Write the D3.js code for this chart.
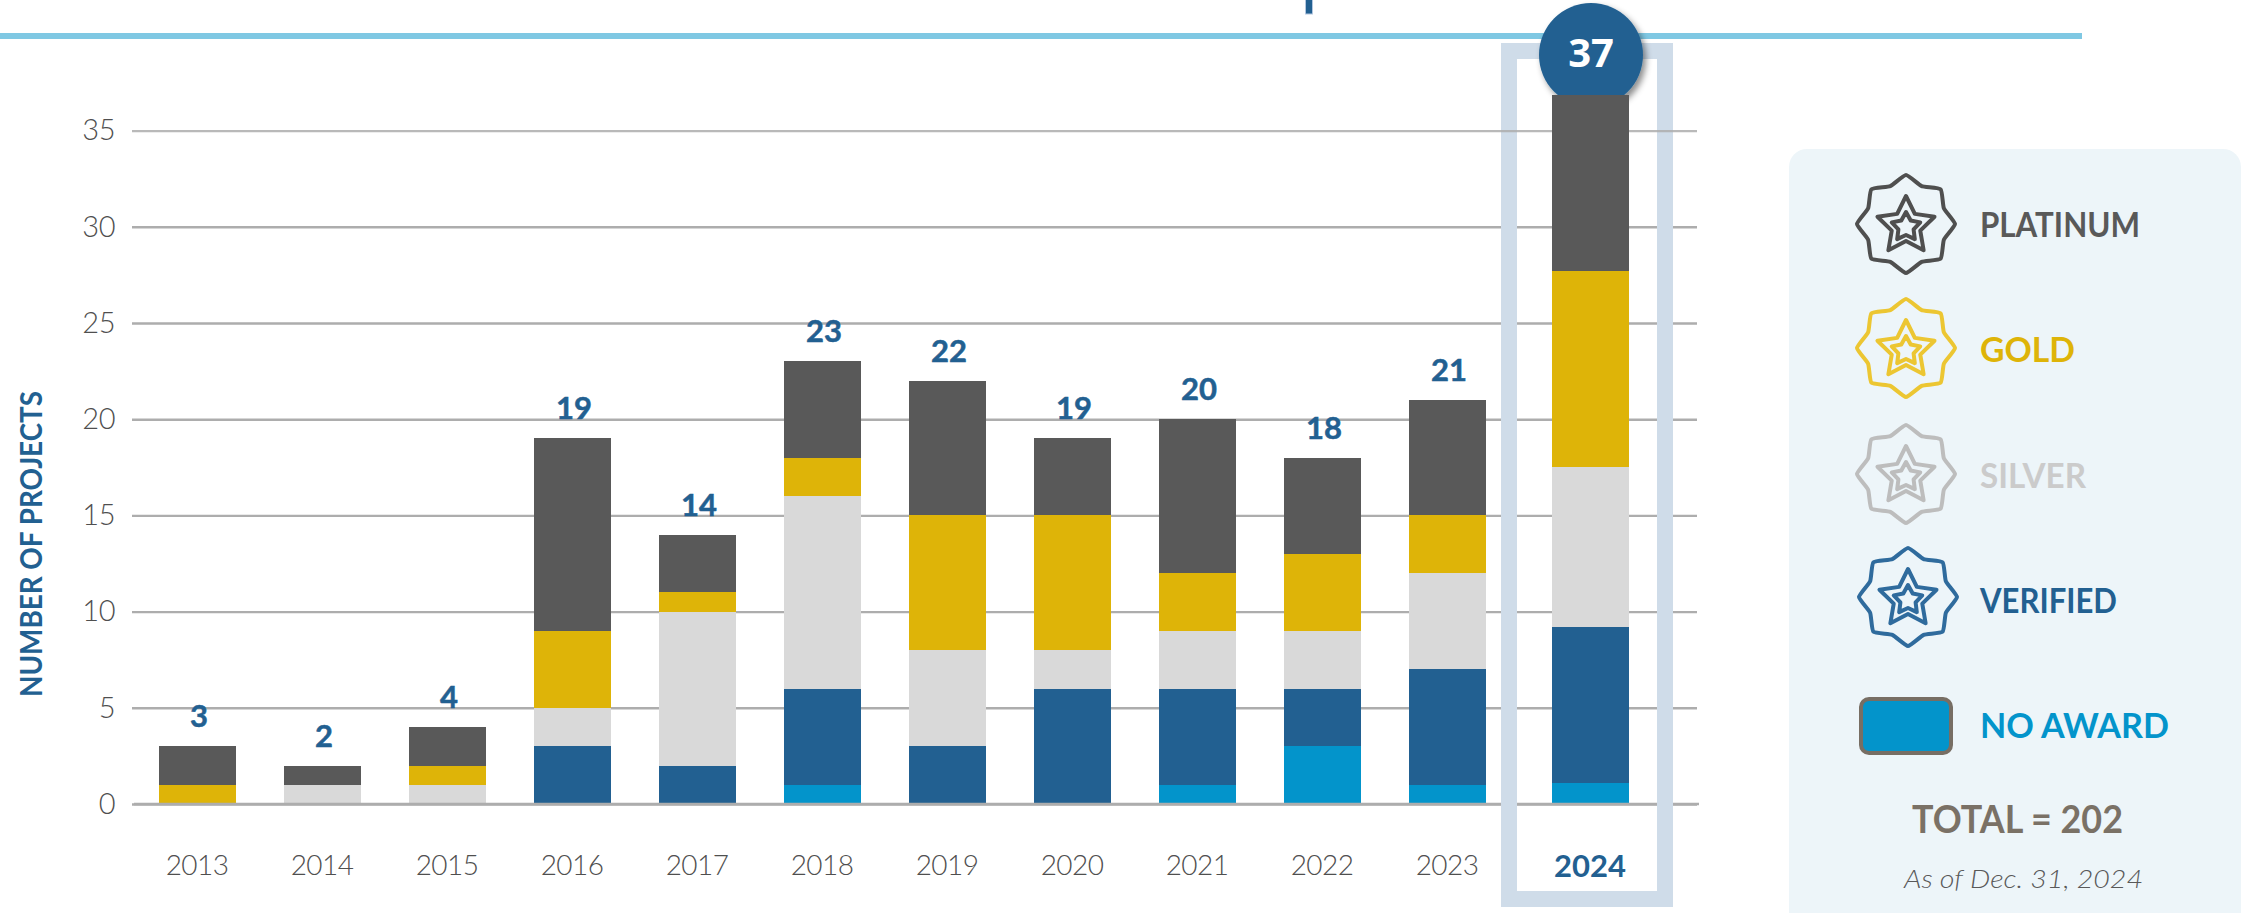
<!DOCTYPE html>
<html>
<head>
<meta charset="utf-8">
<title>Projects by year</title>
<script src="https://cdn.jsdelivr.net/npm/d3@7"></script>
<style>
  html, body { margin: 0; padding: 0; background: #fff; overflow: hidden; }
  text { font-family: Lato, "Open Sans", sans-serif; }
</style>
</head>
<body>
<div id="chart"></div>
<script>
// data
const years = [2013, 2014, 2015, 2016, 2017, 2018, 2019, 2020, 2021, 2022, 2023, 2024];
const noAward  = [0, 0, 0, 0, 0, 1, 0, 0, 1, 3, 1, 1.1];
const verified = [0, 0, 0, 3, 2, 5, 3, 6, 5, 3, 6, 8.1];
const silver   = [0, 1, 1, 2, 8, 10, 5, 2, 3, 3, 5, 8.3];
const gold     = [1, 0, 1, 4, 1, 2, 7, 7, 3, 4, 3, 10.2];
const platinum = [2, 1, 2, 10, 3, 5, 7, 4, 8, 5, 6, 9.15];
const totals   = [3, 2, 4, 19, 14, 23, 22, 19, 20, 18, 21, 37];
const yTicks   = [0, 5, 10, 15, 20, 25, 30, 35];
const highlightYear = 2024;

const seriesKeys = ["noAward", "verified", "silver", "gold", "platinum"];
const seriesValues = { noAward, verified, silver, gold, platinum };
const colors = { noAward: "#0394cb", verified: "#226091", silver: "#d9d9d9", gold: "#deb408", platinum: "#595959" };

const blue = "#226091";
const W = 2244, H = 913;
const highlightShift = 18; // the 2024 bar sits a bit further right than the regular step

const svg = d3.select("#chart").append("svg")
  .attr("width", W).attr("height", H)
  .style("display", "block");

const defs = svg.append("defs");
const shadow = defs.append("filter").attr("id", "shadow")
  .attr("x", "-20%").attr("y", "-20%").attr("width", "150%").attr("height", "150%");
shadow.append("feDropShadow")
  .attr("dx", 3).attr("dy", 4).attr("stdDeviation", 3)
  .attr("flood-color", "#000").attr("flood-opacity", 0.45);

// scales
const x = d3.scaleBand().domain(years).range([158.5, 1610.5]).paddingInner(0.384).paddingOuter(0);
const y = d3.scaleLinear().domain([0, 35]).range([804, 130.6]);
const xLeft = d => x(d) + (d === highlightYear ? highlightShift : 0);
const xMid = d => xLeft(d) + x.bandwidth() / 2;

// header rule and the bottom of the cut off title
svg.append("rect").attr("x", 0).attr("y", 33).attr("width", 2082).attr("height", 6).attr("fill", "#7fc8e3");
svg.append("rect").attr("x", 1305.5).attr("y", -2).attr("width", 7).attr("height", 16)
  .attr("fill", blue).attr("stroke", "#b3c7e0").attr("stroke-width", 1);

// grid and y axis
const grid = svg.append("g").attr("transform", "translate(132,0)")
  .call(d3.axisLeft(y).tickValues(yTicks).tickSize(-1565).tickPadding(17));
grid.select(".domain").remove();
grid.selectAll(".tick line").attr("stroke", "#adadad").attr("stroke-width", 2.4);
grid.selectAll(".tick text")
  .attr("fill", "#4f4f4f").style("font-size", "29px").style("font-weight", 300)
  .style("letter-spacing", "-0.5px");

// highlight frame, only the top grid line shows through it
grid.insert("rect", ".tick")
  .attr("x", 1509 - 132).attr("y", 51).attr("width", 156).attr("height", 848)
  .attr("fill", "none").attr("stroke", "#cfdce9").attr("stroke-width", 16);
grid.selectAll(".tick").filter(d => d !== 35).lower();
grid.selectAll(".tick").filter(d => d === 35).select("line").attr("stroke-opacity", 0.85);

// top badge, goes below the bars
svg.append("circle").attr("cx", 1591).attr("cy", 55).attr("r", 52)
  .attr("fill", blue).attr("filter", "url(#shadow)");

// stacked bars
const rows = years.map((yr, i) => {
  const row = { year: yr };
  seriesKeys.forEach(k => { row[k] = seriesValues[k][i]; });
  return row;
});
const stacked = d3.stack().keys(seriesKeys)(rows);

svg.append("g").selectAll("g").data(stacked).join("g")
  .attr("fill", d => colors[d.key])
  .selectAll("rect").data(d => d).join("rect")
    .attr("x", d => xLeft(d.data.year))
    .attr("y", d => y(d[1]))
    .attr("width", x.bandwidth())
    .attr("height", d => y(d[0]) - y(d[1]))
    .attr("shape-rendering", "crispEdges");

// base line on top of the bars
svg.append("line").attr("x1", 134).attr("x2", 1699).attr("y1", y(0)).attr("y2", y(0))
  .attr("stroke", "#adadad").attr("stroke-width", 2.4);
svg.append("rect").attr("x", 1501).attr("y", y(0) - 2).attr("width", 16).attr("height", 4).attr("fill", "#cfdce9");
svg.append("rect").attr("x", 1657).attr("y", y(0) - 2).attr("width", 16).attr("height", 4).attr("fill", "#cfdce9");

// x axis labels
const xAxis = svg.append("g").attr("transform", "translate(0,804)")
  .call(d3.axisBottom(x).tickSize(0).tickPadding(51));
xAxis.select(".domain").remove();
xAxis.selectAll(".tick text")
  .attr("fill", "#4f4f4f").style("font-size", "28px").style("font-weight", 300)
  .style("letter-spacing", "-0.6px");
xAxis.selectAll(".tick").filter(d => d === highlightYear)
  .attr("transform", d => `translate(${xMid(d)},0)`)
  .select("text").attr("fill", blue).style("font-weight", 700)
  .style("font-size", "31px").style("letter-spacing", "0");

// totals over the bars
svg.append("g").selectAll("text").data(years.filter(d => d !== highlightYear)).join("text")
  .attr("x", d => xMid(d) + 2)
  .attr("y", (d, i) => y(totals[i]) - 19)
  .attr("text-anchor", "middle")
  .attr("fill", blue).attr("stroke", blue).attr("stroke-width", 0.5)
  .style("font-size", "31px").style("font-weight", 700)
  .text((d, i) => totals[i]);

svg.append("text").attr("x", 1591).attr("y", 67)
  .attr("text-anchor", "middle").attr("fill", "#fff")
  .style("font-family", '"Open Sans", sans-serif')
  .style("font-size", "40px").style("font-weight", 700)
  .text(totals[totals.length - 1]);

// y title
svg.append("text")
  .attr("transform", "translate(42,544) rotate(-90)")
  .attr("text-anchor", "middle").attr("fill", blue)
  .attr("textLength", 306).attr("lengthAdjust", "spacingAndGlyphs")
  .style("font-size", "31px").style("font-weight", 700)
  .text("NUMBER OF PROJECTS");

// legend panel
svg.append("rect").attr("x", 1789).attr("y", 149).attr("width", 452).attr("height", 790)
  .attr("rx", 18).attr("fill", "#edf5f9");

const legendRows = [
  { label: "PLATINUM", icon: "#4f4f4f", text: "#595959", cx: 1906, cy: 224, base: 237, w: 160 },
  { label: "GOLD",     icon: "#ecc632", text: "#deb408", cx: 1906, cy: 348, base: 362, w: 95 },
  { label: "SILVER",   icon: "#bdbdbd", text: "#cbcbcb", cx: 1906, cy: 474, base: 488, w: 106 },
  { label: "VERIFIED", icon: "#2f6b9d", text: blue,      cx: 1908, cy: 597, base: 613, w: 137 }
];

// badge outline, tips on the axes and diagonals
const badgeLine = d3.lineRadial().curve(d3.curveCardinalClosed.tension(0.55));
const starLine = d3.lineRadial().curve(d3.curveLinearClosed);
const ring = (n, r0, r1) => d3.range(n * 2).map(i => [i * Math.PI / n, i % 2 ? r1 : r0]);

legendRows.forEach(r => {
  const g = svg.append("g").attr("transform", `translate(${r.cx},${r.cy})`)
    .attr("fill", "none").attr("stroke", r.icon).attr("stroke-linejoin", "round").attr("stroke-linecap", "round");
  g.append("path").attr("d", badgeLine(ring(8, 49, 41))).attr("stroke-width", 4);
  g.append("path").attr("transform", "translate(0,2)")
    .attr("d", starLine(ring(5, 30, 15))).attr("stroke-width", 4);
  g.append("path").attr("transform", "translate(0,3)")
    .attr("d", starLine(ring(5, 15, 8))).attr("stroke-width", 4);
  svg.append("text").attr("x", 1980).attr("y", r.base).attr("fill", r.text)
    .attr("textLength", r.w).attr("lengthAdjust", "spacingAndGlyphs")
    .style("font-size", "34px").style("font-weight", 700)
    .text(r.label);
});

svg.append("rect").attr("x", 1861).attr("y", 699).attr("width", 90).attr("height", 54).attr("rx", 8)
  .attr("fill", colors.noAward).attr("stroke", "#776e64").attr("stroke-width", 4);
svg.append("text").attr("x", 1980).attr("y", 738).attr("fill", colors.noAward)
  .attr("textLength", 189).attr("lengthAdjust", "spacingAndGlyphs")
  .style("font-size", "34px").style("font-weight", 700)
  .text("NO AWARD");

svg.append("text").attr("x", 1912).attr("y", 833).attr("fill", "#7a7166")
  .attr("textLength", 211).attr("lengthAdjust", "spacingAndGlyphs")
  .style("font-size", "38px").style("font-weight", 700)
  .text("TOTAL = 202");

svg.append("text").attr("x", 1904).attr("y", 888).attr("fill", "#595959")
  .attr("textLength", 239).attr("lengthAdjust", "spacingAndGlyphs")
  .style("font-size", "26px").style("font-style", "italic").style("font-weight", 300)
  .text("As of Dec. 31, 2024");
</script>
</body>
</html>
